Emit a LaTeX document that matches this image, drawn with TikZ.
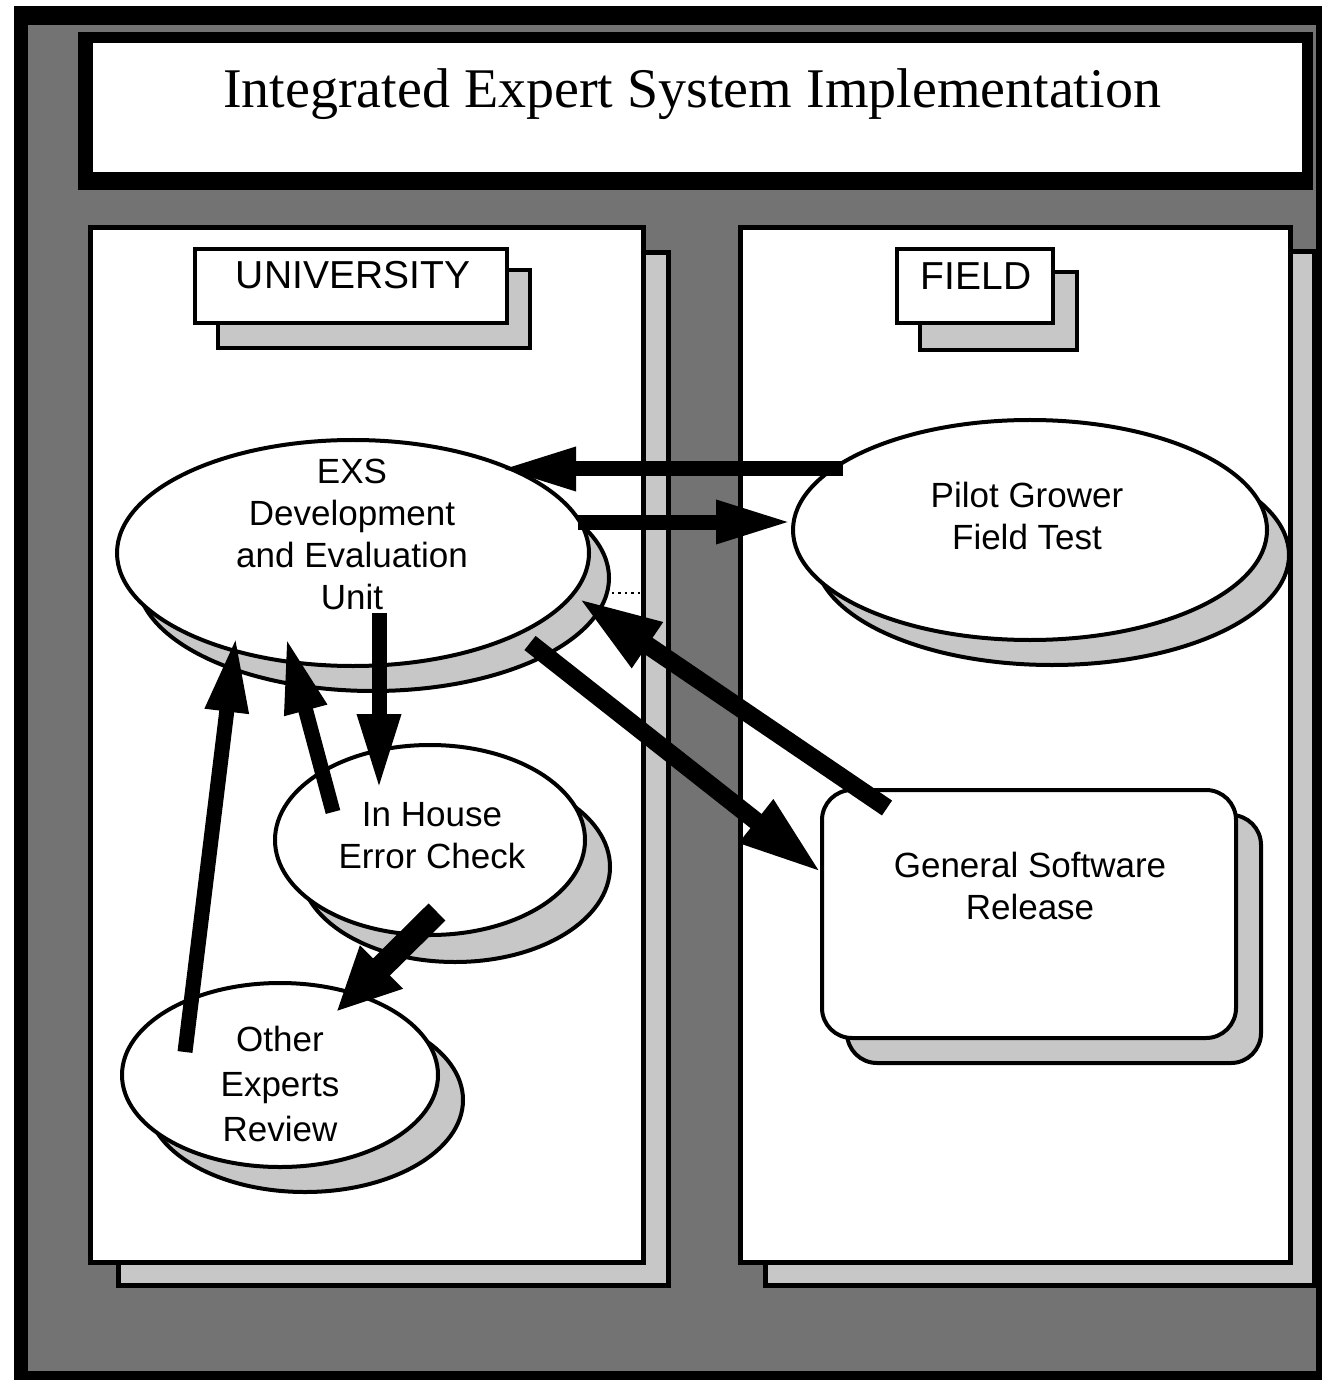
\documentclass[tikz,border=0pt]{standalone}
\usepackage{fontspec}
\setmainfont{Liberation Sans}
\newfontfamily\serifT{Liberation Serif}
\usetikzlibrary{arrows.meta,calc,shapes.geometric}
\begin{document}
\begin{tikzpicture}[x=0.5pt,y=-0.5pt,
  darkfill/.style={fill=black!55},
  panelbox/.style={draw=black,line width=2.5pt,fill=white},
  panelshadow/.style={draw=black,line width=2.5pt,fill=black!22},
  lblbox/.style={rectangle,draw=black,line width=1.6pt,fill=white,inner sep=0pt},
  lblshadow/.style={rectangle,draw=black,line width=1.6pt,fill=black!22,inner sep=0pt},
  ell/.style={ellipse,draw=black,line width=2pt,fill=white,inner sep=0pt},
  ellshadow/.style={ellipse,draw=black,line width=2pt,fill=black!22,inner sep=0pt},
  rbox/.style={rectangle,rounded corners=15pt,draw=black,line width=2pt,fill=white,inner sep=0pt,minimum width=207pt,minimum height=124pt},
  rboxshadow/.style={rbox,fill=black!22},
  txt/.style={font=\fontsize{17.5}{21}\selectfont,align=center,inner sep=0pt},
  lbltxt/.style={font=\fontsize{19.5}{22}\selectfont,inner sep=0pt},
  arrA/.style={line width=7.5pt,-{Triangle[length=38pt,width=20pt]}},
  arrB/.style={line width=9pt,-{Triangle[length=42pt,width=25pt]}},
  arrC/.style={line width=12pt,-{Triangle[length=32pt,width=28pt]}}
]
\useasboundingbox (0,0) rectangle (1326,1384);
\fill[white] (0,0) rectangle (1326,1384);
% outer frame
\fill[black] (14,6) rectangle (1322,1380);
\fill[darkfill] (28,25) rectangle (1316,1371);
% title
\fill[black] (78,32) rectangle (1313,190);
\fill[white] (93,43) rectangle (1302,172);
\node[font=\serifT\fontsize{28}{30}\selectfont,anchor=base,inner sep=0pt] (title) at (692,108) {Integrated Expert System Implementation};
% panels
\draw[panelshadow] (118,253) rectangle (668,1285);
\draw[panelbox] (90,228) rectangle (643,1262);
\draw[panelshadow] (765,252) rectangle (1314,1285);
\draw[panelbox] (740,228) rectangle (1290,1262);
% panel labels
\node[lblshadow,minimum width=156pt,minimum height=39pt] (unishadow) at (374,309) {};
\node[lblbox,minimum width=156pt,minimum height=37pt] (unibox) at (351,286) {};
\node[lbltxt] (unitxt) at (353,275) {UNIVERSITY};
\node[lblshadow,minimum width=78.5pt,minimum height=39pt] (fieldshadow) at (998.5,311) {};
\node[lblbox,minimum width=78pt,minimum height=37pt] (fieldbox) at (975,286) {};
\node[lbltxt] (fieldtxt) at (976,276) {FIELD};
% shadows
\node[ellshadow,minimum width=236pt,minimum height=113pt] (exsS) at (373,578) {};
\node[ellshadow,minimum width=237pt,minimum height=110pt] (pilotS) at (1052,555) {};
\node[ellshadow,minimum width=155pt,minimum height=95pt] (inhS) at (455,867) {};
\node[ellshadow,minimum width=158pt,minimum height=92pt] (othS) at (305,1100) {};
\node[rboxshadow] (gsrS) at (1054,939) {};
% main shapes
\node[ell,minimum width=236pt,minimum height=113pt] (exs) at (353,553) {};
\node[ell,minimum width=237pt,minimum height=110pt] (pilot) at (1030,530) {};
\node[ell,minimum width=155pt,minimum height=95pt] (inh) at (430,840) {};
\node[ell,minimum width=158pt,minimum height=92pt] (oth) at (280,1075) {};
\node[rbox] (gsr) at (1029,914) {};
% dotted link
\coordinate (dotend) at (641,593);
\draw[dotted,line width=1.2pt] ($(exsS.center)+(239,15)$) -- (dotend);
% arrows
\draw[arrA] ($(pilot.center)+(-187,-61)$) -- ($(exs.center)+(147,-84)$);
\draw[arrA] ($(exs.center)+(225,-31)$) -- ($(pilot.center)+(-238,-8)$);
\draw[arrB] ($(gsr.center)+(-142,-106)$) -- ($(exs.center)+(225,45)$);
\draw[arrB] ($(exs.center)+(177,90)$) -- ($(gsr.center)+(-207,-41)$);
\draw[arrA] ($(exs.center)+(26,60)$) -- ($(inh.center)+(-51,-50)$);
\draw[arrA] ($(inh.center)+(-97,-28)$) -- ($(exs.center)+(-67,84)$);
\draw[arrA] ($(oth.center)+(-95,-23)$) -- ($(exs.center)+(-117,83)$);
\draw[arrC] ($(inh.center)+(7,72)$) -- ($(oth.center)+(56,-63)$);
% texts
\node[txt] (exsT) at (352,534) {EXS\\Development\\and Evaluation\\Unit};
\node[txt] (pilotT) at (1027,516) {Pilot Grower\\Field Test};
\node[txt] (inhT) at (432,836) {In House\\Error Check};
\node[txt,font=\fontsize{17.5}{22.5}\selectfont] (othT) at (280,1084) {Other\\Experts\\Review};
\node[txt] (gsrT) at (1030,886) {General Software\\Release};
\end{tikzpicture}
\end{document}
